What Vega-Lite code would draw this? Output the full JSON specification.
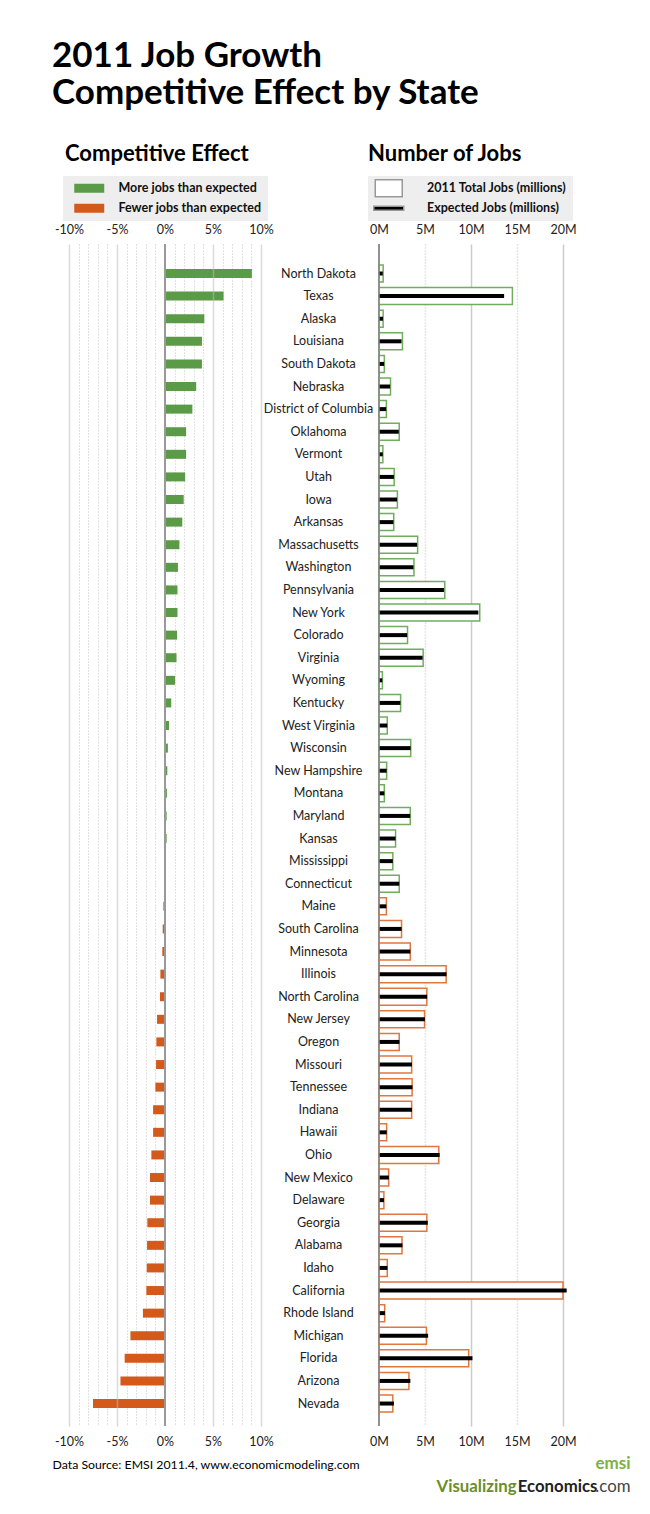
{
 "$schema": "https://vega.github.io/schema/vega-lite/v6.json",
 "background": "white",
 "padding": {"left": 52, "top": 39, "right": 12, "bottom": 10},
 "config": {
  "view": {"stroke": null},
  "font": "Lato",
  "axis": {"labelFont": "Lato", "titleFont": "Lato"},
  "legend": {"labelFont": "Lato", "titleFont": "Lato"},
  "title": {"font": "Lato", "color": "#000"}
 },
 "title": {"text": ["2011 Job Growth", "Competitive Effect by State"], "anchor": "start", "frame": "group", "dx": -17, "fontSize": 35, "fontWeight": "bold", "lineHeight": 37, "offset": 32},
 "datasets": {
  "jobs": [
   {"state": "North Dakota", "effect": 9.05, "total": 0.45, "expected": 0.41, "dir": "more"},
   {"state": "Texas", "effect": 6.1, "total": 14.5, "expected": 13.6, "dir": "more"},
   {"state": "Alaska", "effect": 4.1, "total": 0.45, "expected": 0.43, "dir": "more"},
   {"state": "Louisiana", "effect": 3.85, "total": 2.55, "expected": 2.45, "dir": "more"},
   {"state": "South Dakota", "effect": 3.85, "total": 0.58, "expected": 0.56, "dir": "more"},
   {"state": "Nebraska", "effect": 3.25, "total": 1.25, "expected": 1.21, "dir": "more"},
   {"state": "District of Columbia", "effect": 2.85, "total": 0.8, "expected": 0.78, "dir": "more"},
   {"state": "Oklahoma", "effect": 2.2, "total": 2.2, "expected": 2.15, "dir": "more"},
   {"state": "Vermont", "effect": 2.2, "total": 0.42, "expected": 0.41, "dir": "more"},
   {"state": "Utah", "effect": 2.1, "total": 1.65, "expected": 1.62, "dir": "more"},
   {"state": "Iowa", "effect": 1.95, "total": 2.0, "expected": 1.96, "dir": "more"},
   {"state": "Arkansas", "effect": 1.8, "total": 1.6, "expected": 1.57, "dir": "more"},
   {"state": "Massachusetts", "effect": 1.5, "total": 4.2, "expected": 4.14, "dir": "more"},
   {"state": "Washington", "effect": 1.35, "total": 3.8, "expected": 3.75, "dir": "more"},
   {"state": "Pennsylvania", "effect": 1.3, "total": 7.15, "expected": 7.06, "dir": "more"},
   {"state": "New York", "effect": 1.3, "total": 10.95, "expected": 10.8, "dir": "more"},
   {"state": "Colorado", "effect": 1.25, "total": 3.1, "expected": 3.06, "dir": "more"},
   {"state": "Virginia", "effect": 1.2, "total": 4.8, "expected": 4.74, "dir": "more"},
   {"state": "Wyoming", "effect": 1.05, "total": 0.37, "expected": 0.36, "dir": "more"},
   {"state": "Kentucky", "effect": 0.65, "total": 2.35, "expected": 2.33, "dir": "more"},
   {"state": "West Virginia", "effect": 0.42, "total": 0.9, "expected": 0.9, "dir": "more"},
   {"state": "Wisconsin", "effect": 0.3, "total": 3.45, "expected": 3.44, "dir": "more"},
   {"state": "New Hampshire", "effect": 0.24, "total": 0.83, "expected": 0.83, "dir": "more"},
   {"state": "Montana", "effect": 0.2, "total": 0.58, "expected": 0.58, "dir": "more"},
   {"state": "Maryland", "effect": 0.17, "total": 3.4, "expected": 3.39, "dir": "more"},
   {"state": "Kansas", "effect": 0.17, "total": 1.8, "expected": 1.8, "dir": "more"},
   {"state": "Mississippi", "effect": 0.06, "total": 1.5, "expected": 1.5, "dir": "more"},
   {"state": "Connecticut", "effect": 0.03, "total": 2.2, "expected": 2.2, "dir": "more"},
   {"state": "Maine", "effect": -0.17, "total": 0.8, "expected": 0.8, "dir": "fewer"},
   {"state": "South Carolina", "effect": -0.24, "total": 2.45, "expected": 2.46, "dir": "fewer"},
   {"state": "Minnesota", "effect": -0.28, "total": 3.4, "expected": 3.41, "dir": "fewer"},
   {"state": "Illinois", "effect": -0.48, "total": 7.3, "expected": 7.34, "dir": "fewer"},
   {"state": "North Carolina", "effect": -0.52, "total": 5.2, "expected": 5.23, "dir": "fewer"},
   {"state": "New Jersey", "effect": -0.83, "total": 4.95, "expected": 4.99, "dir": "fewer"},
   {"state": "Oregon", "effect": -0.9, "total": 2.2, "expected": 2.22, "dir": "fewer"},
   {"state": "Missouri", "effect": -0.93, "total": 3.55, "expected": 3.58, "dir": "fewer"},
   {"state": "Tennessee", "effect": -1.0, "total": 3.6, "expected": 3.64, "dir": "fewer"},
   {"state": "Indiana", "effect": -1.24, "total": 3.55, "expected": 3.59, "dir": "fewer"},
   {"state": "Hawaii", "effect": -1.24, "total": 0.83, "expected": 0.84, "dir": "fewer"},
   {"state": "Ohio", "effect": -1.42, "total": 6.5, "expected": 6.59, "dir": "fewer"},
   {"state": "New Mexico", "effect": -1.56, "total": 1.05, "expected": 1.07, "dir": "fewer"},
   {"state": "Delaware", "effect": -1.56, "total": 0.53, "expected": 0.54, "dir": "fewer"},
   {"state": "Georgia", "effect": -1.84, "total": 5.2, "expected": 5.3, "dir": "fewer"},
   {"state": "Alabama", "effect": -1.87, "total": 2.5, "expected": 2.55, "dir": "fewer"},
   {"state": "Idaho", "effect": -1.9, "total": 0.9, "expected": 0.92, "dir": "fewer"},
   {"state": "California", "effect": -1.94, "total": 20.0, "expected": 20.4, "dir": "fewer"},
   {"state": "Rhode Island", "effect": -2.3, "total": 0.62, "expected": 0.64, "dir": "fewer"},
   {"state": "Michigan", "effect": -3.6, "total": 5.15, "expected": 5.34, "dir": "fewer"},
   {"state": "Florida", "effect": -4.2, "total": 9.75, "expected": 10.16, "dir": "fewer"},
   {"state": "Arizona", "effect": -4.64, "total": 3.25, "expected": 3.41, "dir": "fewer"},
   {"state": "Nevada", "effect": -7.5, "total": 1.5, "expected": 1.62, "dir": "fewer"}
  ]
 },
 "hconcat": [
  {
   "width": 192,
   "height": 1182,
   "title": {"text": "Competitive Effect", "anchor": "start", "frame": "group", "dx": -4, "fontSize": 22, "fontWeight": "bold", "offset": 57},
   "layer": [
    {
     "data": {"name": "jobs"},
     "mark": {"type": "bar", "size": 9},
     "encoding": {
      "y": {"field": "state", "type": "nominal", "sort": null, "axis": null, "scale": {"paddingInner": 0, "paddingOuter": 0.65, "align": 0.62}},
      "x": {"field": "effect", "type": "quantitative", "scale": {"domain": [-10, 10], "nice": false},
       "axis": {"orient": "top", "values": [-10,-9,-8,-7,-6,-5,-4,-3,-2,-1,0,1,2,3,4,5,6,7,8,9,10],
        "labelExpr": "datum.value % 5 === 0 ? datum.value + '%' : ''", "labelOverlap": false, "labelFlush": false, "labelBound": false,
        "title": null, "domain": false, "ticks": false, "tickSize": 0, "labelPadding": 8, "labelFontSize": 12.5, "labelColor": "#222",
        "grid": true, "gridColor": "#c4c4c4", "gridDash": [1, 2], "gridWidth": 1,
        "gridOpacity": {"condition": {"test": "datum.value % 5 === 0", "value": 0}, "value": 1}}},
      "color": {"field": "dir", "type": "nominal", "scale": {"domain": ["more", "fewer"], "range": ["#5b9a47", "#d45a1c"]},
       "legend": {"orient": "none", "legendX": -6, "legendY": -68, "title": null, "fillColor": "#eeeeee", "padding": 6,
        "symbolType": "M-3,-0.9H3V0.9H-3Z", "symbolSize": 100, "symbolStrokeWidth": 0, "symbolOffset": 14, "labelOffset": 23,
        "labelFontSize": 12.5, "labelFontWeight": "bold", "labelColor": "#111", "rowPadding": 7,
        "labelExpr": "datum.value == 'more' ? 'More jobs than expected' : 'Fewer jobs than expected'"}}
     }
    },
    {
     "data": {"values": [{}]},
     "mark": {"type": "rule", "color": "#999", "strokeWidth": 2},
     "encoding": {
      "x": {"datum": 0, "type": "quantitative",
       "axis": {"orient": "bottom", "values": [-10, -5, 0, 5, 10], "labelExpr": "datum.value + '%'", "domain": false, "ticks": false, "tickSize": 0,
        "labelPadding": 9, "labelFontSize": 12.5, "labelColor": "#222", "labelFlush": false,
        "grid": true, "gridColor": "#bbbbbb", "gridWidth": 1.5,
        "gridOpacity": {"condition": {"test": "datum.value === 0", "value": 0}, "value": 0.55}, "zindex": 1,
        "title": "Data Source: EMSI 2011.4, www.economicmodeling.com", "titleX": -17, "titleY": 38, "titleAlign": "left",
        "titleBaseline": "middle", "titleFontSize": 12.3, "titleFontWeight": "normal", "titleColor": "#000"}}
     }
    }
   ],
   "resolve": {"axis": {"x": "independent"}}
  },
  {
   "width": 184,
   "height": 1182,
   "title": {"text": "Number of Jobs", "anchor": "start", "frame": "group", "dx": -11, "fontSize": 22, "fontWeight": "bold", "offset": 57},
   "layer": [
    {
     "data": {"values": [{}]},
     "mark": {"type": "rule", "color": "#888", "strokeWidth": 1.5},
     "encoding": {
      "x": {"datum": 0, "type": "quantitative", "scale": {"domain": [0, 20], "nice": false},
       "axis": {"orient": "bottom", "labels": false, "ticks": false, "domain": false, "grid": false,
        "title": "Visualizing", "titleX": 137, "titleY": 60, "titleAlign": "right", "titleBaseline": "middle",
        "titleFontSize": 16.8, "titleFontWeight": "bold", "titleColor": "#6b8e2b"}}
     }
    },
    {
     "data": {"name": "jobs"},
     "mark": {"type": "bar", "size": 17, "fill": "white", "strokeWidth": 1.5},
     "encoding": {
      "y": {"field": "state", "type": "nominal", "sort": null, "scale": {"paddingInner": 0, "paddingOuter": 0.65, "align": 0.62},
       "axis": {"orient": "left", "labelAlign": "center", "labelPadding": 61, "ticks": false, "tickSize": 0, "domain": false, "title": null,
        "labelFontSize": 12.5, "labelColor": "#222"}},
      "x": {"field": "total", "type": "quantitative",
       "axis": {"orient": "top", "values": [0, 5, 10, 15, 20], "labelExpr": "datum.value + 'M'", "title": null, "domain": false, "ticks": false, "tickSize": 0,
        "labelPadding": 8, "labelFontSize": 12.5, "labelColor": "#222", "labelFlush": false,
        "grid": true, "gridColor": "#cccccc", "gridWidth": 1.5,
        "gridDash": {"condition": {"test": "datum.value % 10 === 0", "value": []}, "value": [1, 2]},
        "gridOpacity": {"condition": {"test": "datum.value === 0", "value": 0}, "value": 1}}},
      "stroke": {"field": "dir", "type": "nominal", "scale": {"domain": ["more", "fewer"], "range": ["#72ad5e", "#e0773d"]}, "legend": null}
     }
    },
    {
     "data": {"name": "jobs"},
     "mark": {"type": "bar", "size": 4, "color": "black"},
     "encoding": {
      "y": {"field": "state", "type": "nominal", "sort": null,
       "axis": {"orient": "left", "labelAlign": "center", "labelPadding": 61, "ticks": false, "tickSize": 0, "domain": false, "title": null,
        "labelFontSize": 12.5, "labelColor": "#222"}},
      "x": {"field": "expected", "type": "quantitative",
       "axis": {"orient": "bottom", "values": [0, 5, 10, 15, 20], "labelExpr": "datum.value + 'M'", "domain": false, "ticks": false, "tickSize": 0,
        "labelPadding": 9, "labelFontSize": 12.5, "labelColor": "#222", "labelFlush": false, "grid": false,
        "title": "emsi", "titleX": 251, "titleY": 37, "titleAlign": "right", "titleBaseline": "middle",
        "titleFontSize": 17, "titleFontWeight": "bold", "titleColor": "#7db243"}}
     }
    },
    {
     "data": {"values": [{"series": "2011 Total Jobs (millions)"}, {"series": "Expected Jobs (millions)"}]},
     "transform": [{"filter": "false"}],
     "mark": {"type": "point", "filled": true, "stroke": "#999", "strokeWidth": 0.8, "opacity": 1},
     "encoding": {
      "x": {"datum": 0, "type": "quantitative",
       "axis": {"orient": "bottom", "labels": false, "ticks": false, "domain": false, "grid": false,
        "title": "Economics", "titleX": 218, "titleY": 60, "titleAlign": "right", "titleBaseline": "middle",
        "titleFontSize": 16.8, "titleFontWeight": "bold", "titleColor": "#222"}},
      "shape": {"field": "series", "type": "nominal",
       "scale": {"domain": ["2011 Total Jobs (millions)", "Expected Jobs (millions)"], "range": ["M-2.7,-1.7H2.7V1.7H-2.7Z", "M-3,-0.4H3V0.4H-3Z"]},
       "legend": {"orient": "none", "legendX": 299, "legendY": -68, "title": null, "fillColor": "#eeeeee", "padding": 6,
        "symbolSize": 100, "symbolOffset": 8.5, "labelOffset": 32, "labelFontSize": 12.5, "labelFontWeight": "bold", "labelColor": "#111", "rowPadding": 2}},
      "fill": {"field": "series", "type": "nominal",
       "scale": {"domain": ["2011 Total Jobs (millions)", "Expected Jobs (millions)"], "range": ["white", "black"]},
       "legend": {"orient": "none", "legendX": 299, "legendY": -68, "title": null, "fillColor": "#eeeeee", "padding": 6,
        "symbolSize": 100, "symbolOffset": 8.5, "labelOffset": 32, "labelFontSize": 12.5, "labelFontWeight": "bold", "labelColor": "#111", "rowPadding": 2}}
     }
    },
    {
     "data": {"values": [{}]},
     "mark": {"type": "rule", "color": "#888", "strokeWidth": 1.5},
     "encoding": {
      "x": {"datum": 0, "type": "quantitative",
       "axis": {"orient": "bottom", "labels": false, "ticks": false, "domain": false, "grid": false,
        "title": ".com", "titleX": 251, "titleY": 60, "titleAlign": "right", "titleBaseline": "middle",
        "titleFontSize": 16.8, "titleFontWeight": "normal", "titleColor": "#444"}}
     }
    }
   ],
   "resolve": {"axis": {"x": "independent"}}
  }
 ],
 "spacing": 118,
 "bounds": "flush"
}
